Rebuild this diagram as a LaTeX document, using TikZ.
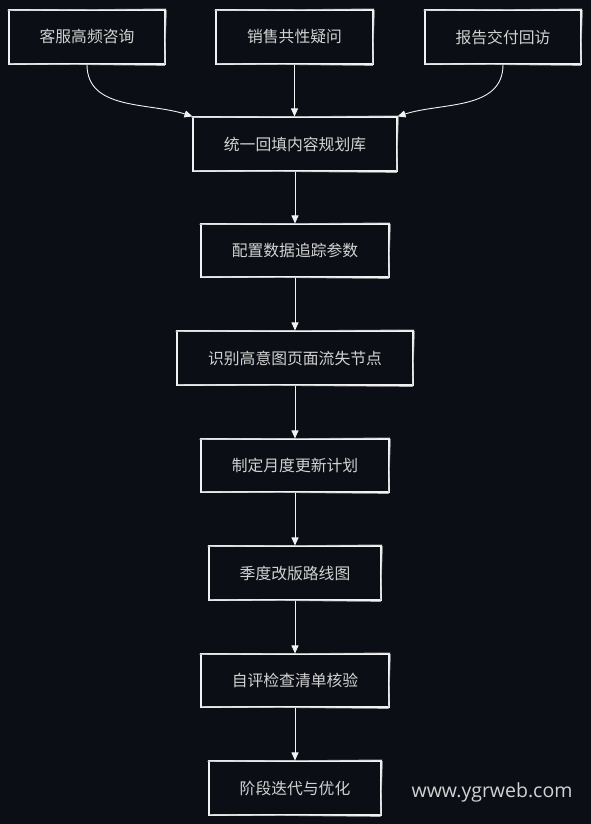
\documentclass[tikz,border=0pt]{standalone}
\usepackage{fontspec}
\setmainfont{Noto Sans CJK SC}
\newfontfamily\wmfont{Open Sans}
\usetikzlibrary{arrows.meta}
\definecolor{bgc}{HTML}{0B0E14}
\definecolor{txc}{HTML}{D2D2D2}
\definecolor{lnc}{HTML}{F2F2F2}
\tikzset{
  flowbox/.style={draw=lnc, line width=1.1pt, fill=bgc, text=txc, inner sep=0pt,
    font=\fontsize{15.8}{18}\selectfont, align=center},
  sketch/.style={draw=lnc!70!bgc, line width=0.6pt},
  flowarrow/.style={draw=lnc, line width=0.9pt, -{Triangle[width=7pt,length=8pt]}}
}
\begin{document}
\begin{tikzpicture}[x=1pt,y=-1pt]
\fill[bgc] (0,0) rectangle (591,824);
\useasboundingbox (0,0) rectangle (591,824);

\node[flowbox, minimum width=156pt, minimum height=54pt] (n1) at (87,37) {客服高频咨询};
\node[flowbox, minimum width=157pt, minimum height=54pt] (n2) at (294.5,37) {销售共性疑问};
\node[flowbox, minimum width=156pt, minimum height=54pt] (n3) at (503,37) {报告交付回访};
\node[flowbox, minimum width=204pt, minimum height=54pt] (n4) at (295,144) {统一回填内容规划库};
\node[flowbox, minimum width=188pt, minimum height=53pt] (n5) at (295,250.5) {配置数据追踪参数};
\node[flowbox, minimum width=236pt, minimum height=54pt] (n6) at (295,358) {识别高意图页面流失节点};
\node[flowbox, minimum width=188pt, minimum height=53pt] (n7) at (295,465.5) {制定月度更新计划};
\node[flowbox, minimum width=172pt, minimum height=54pt] (n8) at (295,573) {季度改版路线图};
\node[flowbox, minimum width=188pt, minimum height=53pt] (n9) at (295,680.5) {自评检查清单核验};
\node[flowbox, minimum width=172pt, minimum height=54pt] (n10) at (295,788) {阶段迭代与优化};

% sketchy second strokes
\foreach \n in {n1,n2,n3,n4,n5,n6,n7,n8,n9,n10}{
  \draw[sketch] ([shift={(1.2,-0.8)}]\n.south west) -- ([shift={(-0.6,1.0)}]\n.south east);
  \draw[sketch] ([shift={(-1.0,0.8)}]\n.north west) -- ([shift={(0.8,-0.6)}]\n.north east);
  \draw[sketch] ([shift={(0.9,0.6)}]\n.north east) -- ([shift={(-0.8,-0.7)}]\n.south east);
}

\node[text=txc, font=\wmfont\fontsize{19.5}{22}\selectfont, inner sep=0pt] (wm) at (492,792) {www.ygrweb.com};

\draw[flowarrow] (n1.south) to[out=-90,in=162] (n4.north west);
\draw[flowarrow] (n2.south) -- (n4.north -| n2.south);
\draw[flowarrow] (n3.south) to[out=-90,in=18] (n4.north east);
\draw[flowarrow] (n4) -- (n5);
\draw[flowarrow] (n5) -- (n6);
\draw[flowarrow] (n6) -- (n7);
\draw[flowarrow] (n7) -- (n8);
\draw[flowarrow] (n8) -- (n9);
\draw[flowarrow] (n9) -- (n10);
\end{tikzpicture}
\end{document}
